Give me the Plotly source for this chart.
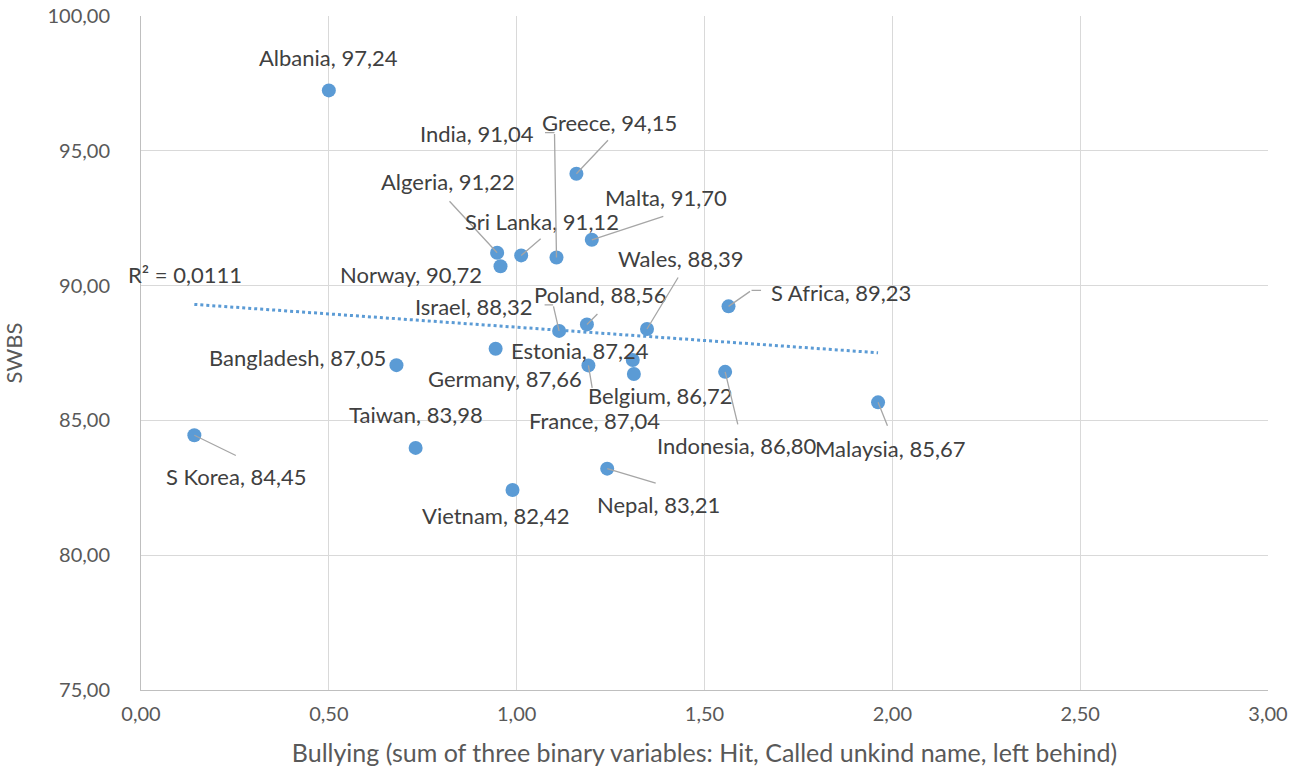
import numpy as np
import plotly.graph_objects as go

#%% DATA

countries = ["Albania", "S Korea", "Bangladesh", "Taiwan", "Algeria", "Norway",
             "Germany", "Vietnam", "Sri Lanka", "India", "Israel", "Greece",
             "Malta", "Poland", "France", "Nepal", "Estonia", "Belgium",
             "Wales", "Indonesia", "S Africa", "Malaysia"]
bullying = [0.50, 0.142, 0.680, 0.731, 0.948, 0.957,
            0.944, 0.989, 1.012, 1.106, 1.113, 1.159,
            1.200, 1.187, 1.191, 1.241, 1.309, 1.312,
            1.347, 1.555, 1.564, 1.962]
swbs = [97.24, 84.45, 87.05, 83.98, 91.22, 90.72,
        87.66, 82.42, 91.12, 91.04, 88.32, 94.15,
        91.70, 88.56, 87.04, 83.21, 87.24, 86.72,
        88.39, 86.80, 89.23, 85.67]
r2_text = "R² = 0,0111"

#%% LABEL LAYOUT (pixel offsets from each marker, y down)

label_pos = {
    "Albania": (0, -33), "S Korea": (42, 41), "Bangladesh": (-99, -8),
    "Taiwan": (0, -33), "Algeria": (-49, -71), "Norway": (-90, 8),
    "Germany": (9, 30), "Vietnam": (-17, 26), "Sri Lanka": (21, -34),
    "India": (-79, -124), "Israel": (-85, -24), "Greece": (33, -51),
    "Malta": (74, -42), "Poland": (13, -30), "France": (6, 55),
    "Nepal": (51, 36), "Estonia": (-53, -10), "Belgium": (27, 21),
    "Wales": (33, -71), "Indonesia": (12, 74), "S Africa": (112, -14),
    "Malaysia": (12, 46),
}
leaders = {
    "S Korea": [(0, 0), (43, 21)],
    "Algeria": [(0, 0), (-49, -53)],
    "Sri Lanka": [(0, 0), (21, -18)],
    "India": [(0, 0), (-2, -125), (-13, -125)],
    "Israel": [(0, 0), (-6, -26), (-16, -26)],
    "Greece": [(0, 0), (33, -35)],
    "Malta": [(0, 0), (73, -24)],
    "Poland": [(0, 0), (12, -12)],
    "Wales": [(0, 0), (32, -53)],
    "France": [(0, 0), (4, 24)],
    "Nepal": [(0, 0), (50, 15)],
    "Indonesia": [(0, 0), (13, 54)],
    "S Africa": [(0, 0), (23, -16), (34, -16)],
    "Malaysia": [(0, 0), (10, 25)],
}

FONT = "Lato"
BLUE = "#5B9BD5"

#%% FIGURE

fig = go.Figure()

# linear trendline
slope, intercept = np.polyfit(bullying, swbs, 1)
tx = np.array([min(bullying), max(bullying)])
fig.add_trace(go.Scatter(
    x=tx, y=slope * tx + intercept, mode="lines",
    line=dict(color=BLUE, width=3, dash="dot"), hoverinfo="skip",
))

fig.add_trace(go.Scatter(
    x=bullying, y=swbs, mode="markers",
    marker=dict(color=BLUE, size=14),
    text=countries,
    hovertemplate="%{text}<br>%{x:.2f}, %{y:.2f}<extra></extra>",
))

annotations = []
for name, bx, sy in zip(countries, bullying, swbs):
    # leader line segments
    path = leaders.get(name, [])
    for (x0, y0), (x1, y1) in zip(path[:-1], path[1:]):
        annotations.append(dict(
            x=bx, y=sy, xref="x", yref="y", text="",
            showarrow=True, arrowhead=0, arrowwidth=1.3, arrowcolor="#A6A6A6",
            xshift=x0, yshift=-y0, ax=x1 - x0, ay=y1 - y0,
            axref="pixel", ayref="pixel", standoff=0, startstandoff=0,
        ))
    dx, dy = label_pos[name]
    annotations.append(dict(
        x=bx, y=sy, xref="x", yref="y",
        text=f"{name}, {sy:.2f}".replace(".", ","),
        showarrow=False, xshift=dx, yshift=-dy,
        xanchor="center", yanchor="middle",
        font=dict(family=FONT, size=22, color="#404040"),
    ))

# R² label, placed next to the trendline start
annotations.append(dict(
    x=tx[0], y=slope * tx[0] + intercept, xref="x", yref="y",
    text=r2_text, showarrow=False, xshift=-9, yshift=30,
    xanchor="center", yanchor="middle",
    font=dict(family=FONT, size=22, color="#404040"),
))

axis_common = dict(
    showgrid=True, gridcolor="#D9D9D9", gridwidth=1,
    zeroline=False, showline=True, linecolor="#BFBFBF", linewidth=1,
    tickformat=".2f", ticks="", automargin=False,
    tickfont=dict(family=FONT, size=20, color="#595959"),
)

fig.update_layout(
    width=1298, height=776,
    template="plotly_white",
    separators=",.",
    showlegend=False,
    plot_bgcolor="white", paper_bgcolor="white",
    margin=dict(l=141, r=30, t=16, b=86),
    xaxis=dict(range=[0, 3], dtick=0.5, mirror=False, ticklabelstandoff=6,
               title=dict(text="Bullying (sum of three binary variables: Hit, Called unkind name, left behind)",
                          font=dict(family=FONT, size=25, color="#595959"), standoff=20),
               **axis_common),
    yaxis=dict(range=[75, 100], dtick=5, ticklabelstandoff=26,
               title=dict(text="SWBS", font=dict(family=FONT, size=22, color="#595959"), standoff=19),
               **axis_common),
    annotations=annotations,
)

# drop the browser's default 8px body margin so the figure fills the window
fig.write_html("out.html", config={"displayModeBar": False},
               post_script="document.body.style.margin='0';")
